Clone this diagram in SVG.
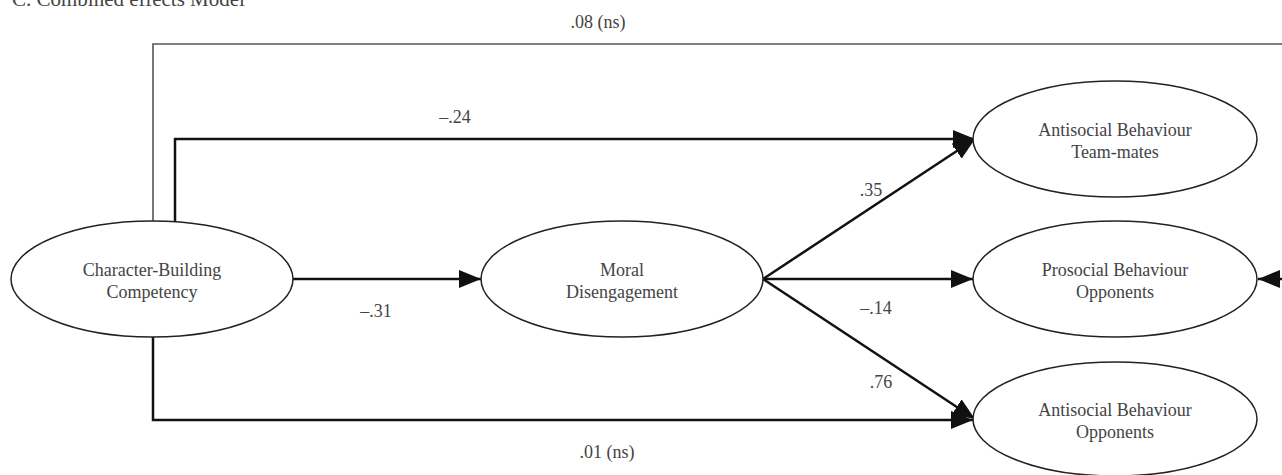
<svg xmlns="http://www.w3.org/2000/svg" width="1282" height="475" viewBox="0 0 1282 475">
<style>
.node ellipse{fill:#fff;stroke:#222;stroke-width:1.5}
text{font-family:"Liberation Serif","Times New Roman",serif;fill:#444;font-size:18px}
.lbl{text-anchor:middle}
.num{font-size:20px;fill:#333}
.c line,.c polyline{stroke:#111;stroke-width:2.5;fill:none}
.c .thin{stroke:#555;stroke-width:1.6}
</style>
<defs>
<marker id="ah" markerUnits="userSpaceOnUse" markerWidth="24" markerHeight="20" refX="22" refY="9" orient="auto">
<path d="M0,0 L22,9 L0,18 Z" fill="#111"/>
</marker>
</defs>
<text x="12" y="6" style="font-size:21px">C. Combined effects Model</text>
<g class="c" id="connectors">
<polyline class="thin" points="153,221 153,44 1282,44"/>
<polyline points="175,221 175,139 975,139" marker-end="url(#ah)"/>
<line x1="293" y1="279" x2="481" y2="279" marker-end="url(#ah)"/>
<line x1="763" y1="279" x2="975" y2="139" marker-end="url(#ah)"/>
<line x1="763" y1="279" x2="973" y2="279" marker-end="url(#ah)"/>
<line x1="763" y1="279" x2="975" y2="419" marker-end="url(#ah)"/>
<polyline points="153,337 153,420 973,420" marker-end="url(#ah)"/>
<line x1="1282" y1="279" x2="1258" y2="279" marker-end="url(#ah)"/>
</g>
<g class="lbl num">
<text x="598" y="28">.08 (ns)</text>
<text x="455" y="123">–.24</text>
<text x="376" y="317">–.31</text>
<text x="871" y="196">.35</text>
<text x="876" y="314">–.14</text>
<text x="881" y="388">.76</text>
<text x="607" y="458">.01 (ns)</text>
</g>
<g class="node" id="cbc">
<ellipse cx="152" cy="279" rx="141" ry="58"/>
<text class="lbl" x="152" y="276">Character-Building</text>
<text class="lbl" x="152" y="298">Competency</text>
</g>
<g class="node" id="md">
<ellipse cx="622" cy="279" rx="141" ry="58"/>
<text class="lbl" x="622" y="276">Moral</text>
<text class="lbl" x="622" y="298">Disengagement</text>
</g>
<g class="node" id="abt">
<ellipse cx="1115" cy="139" rx="142" ry="58"/>
<text class="lbl" x="1115" y="136">Antisocial Behaviour</text>
<text class="lbl" x="1115" y="158">Team-mates</text>
</g>
<g class="node" id="pbo">
<ellipse cx="1115" cy="279" rx="142" ry="58"/>
<text class="lbl" x="1115" y="276">Prosocial Behaviour</text>
<text class="lbl" x="1115" y="298">Opponents</text>
</g>
<g class="node" id="abo">
<ellipse cx="1115" cy="419" rx="142" ry="57"/>
<text class="lbl" x="1115" y="416">Antisocial Behaviour</text>
<text class="lbl" x="1115" y="438">Opponents</text>
</g>
</svg>
